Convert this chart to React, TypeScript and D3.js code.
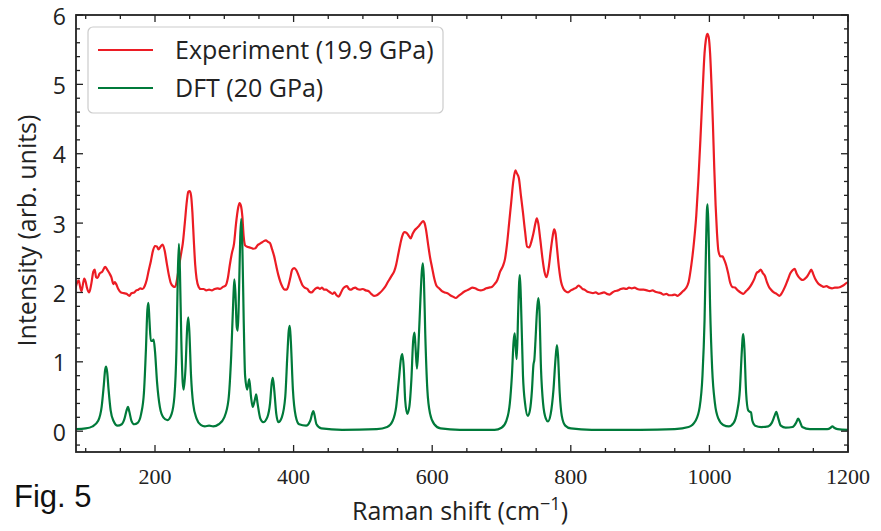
import React from "react";
import * as d3 from "d3";

// Raman shift (cm^-1), intensity (arb. units)
const experimentShift = [85,88,90,92,94,96,98,100,102,105,108,111,113,115,117,120,124,128,131,134,137,140,142,144,147,151,155,159,163,166,170,173,176,179,182,185,188,191,194,197,200,203,205,208,211,214,217,220,223,226,229,232,235,238,240,243,246,248,250,252,254,256,258,260,263,266,270,274,278,282,286,290,294,298,302,305,308,311,314,317,320,322,324,326,328,330,333,336,339,342,345,348,351,354,357,360,363,366,369,372,375,378,381,384,387,390,392,395,398,401,404,407,410,413,416,420,423,426,429,432,435,438,441,444,447,450,453,456,459,462,465,468,471,474,477,480,483,486,489,492,496,500,504,508,512,516,520,524,528,532,536,539,542,545,548,551,554,557,560,563,566,569,572,575,578,581,584,587,589,591,594,597,600,603,606,610,614,618,622,626,630,634,638,642,646,650,654,658,662,666,670,674,678,682,686,690,694,698,702,705,708,711,714,717,720,722,725,728,731,734,737,740,743,746,749,751,753,756,759,762,765,768,771,774,776,778,780,783,786,789,792,796,800,804,808,811,814,817,820,824,828,832,836,840,844,848,852,856,860,864,868,872,876,880,884,888,892,896,900,905,910,914,918,922,926,930,934,938,942,946,950,954,958,962,966,970,974,978,981,984,987,990,993,995,997,999,1001,1003,1005,1007,1009,1011,1013,1016,1019,1021,1024,1027,1030,1033,1037,1041,1045,1049,1053,1057,1061,1065,1068,1071,1074,1077,1080,1083,1086,1089,1093,1097,1101,1105,1109,1113,1117,1120,1123,1126,1129,1132,1135,1138,1141,1144,1147,1150,1153,1157,1161,1165,1169,1173,1177,1181,1185,1189,1193,1197,1200];
const experimentIntensity = [2.05,2.15,2.17,2.08,2.02,2.12,2.2,2.15,2.06,2.0,2.12,2.3,2.33,2.22,2.21,2.27,2.3,2.37,2.33,2.28,2.22,2.12,2.15,2.12,2.05,2.0,1.99,1.98,1.95,1.99,2.0,2.03,2.04,2.06,2.05,2.09,2.18,2.32,2.45,2.6,2.67,2.66,2.62,2.66,2.69,2.6,2.42,2.25,2.13,2.09,2.08,2.2,2.4,2.58,2.7,3.0,3.32,3.45,3.46,3.4,3.15,2.75,2.4,2.2,2.08,2.05,2.05,2.03,2.04,2.03,2.05,2.06,2.05,2.08,2.1,2.2,2.4,2.57,2.7,3.0,3.22,3.29,3.25,3.1,2.8,2.68,2.66,2.65,2.64,2.63,2.64,2.68,2.7,2.72,2.74,2.75,2.73,2.71,2.62,2.52,2.38,2.25,2.15,2.08,2.04,2.04,2.08,2.2,2.33,2.35,2.32,2.25,2.17,2.1,2.07,2.05,2.01,2.0,2.03,2.06,2.07,2.05,2.07,2.04,2.04,2.02,2.0,1.98,2.0,1.96,1.94,1.99,2.05,2.08,2.09,2.05,2.04,2.06,2.07,2.05,2.04,2.05,2.03,2.02,1.98,1.95,1.96,1.99,2.03,2.08,2.15,2.2,2.25,2.3,2.4,2.55,2.7,2.82,2.87,2.86,2.82,2.78,2.85,2.9,2.93,2.96,3.0,3.03,3.0,2.91,2.7,2.5,2.35,2.2,2.1,2.06,2.02,2.0,1.99,1.96,1.94,1.92,1.95,1.98,2.01,2.03,2.05,2.07,2.06,2.04,2.03,2.04,2.06,2.07,2.08,2.12,2.18,2.3,2.38,2.48,2.7,3.0,3.3,3.6,3.76,3.72,3.65,3.4,3.15,2.88,2.66,2.65,2.73,2.85,3.0,3.07,3.0,2.76,2.5,2.3,2.22,2.35,2.6,2.82,2.91,2.85,2.65,2.35,2.15,2.06,2.02,2.0,2.03,2.05,2.07,2.1,2.08,2.05,2.04,2.01,2.0,1.99,2.0,1.98,1.99,2.0,1.98,1.97,2.0,2.02,2.03,2.05,2.06,2.05,2.07,2.06,2.07,2.05,2.04,2.04,2.03,2.02,2.03,2.01,2.0,1.99,1.97,1.98,1.96,1.96,1.97,1.95,1.98,2.02,2.06,2.15,2.4,2.75,3.1,3.6,4.2,4.85,5.45,5.65,5.73,5.68,5.45,5.0,4.45,3.8,3.25,2.85,2.6,2.52,2.52,2.48,2.4,2.28,2.14,2.08,2.07,2.03,2.0,1.98,2.02,2.06,2.12,2.2,2.28,2.3,2.33,2.28,2.24,2.15,2.08,2.04,2.0,1.98,1.95,2.0,2.08,2.18,2.28,2.32,2.34,2.27,2.22,2.19,2.18,2.2,2.23,2.28,2.33,2.26,2.19,2.13,2.1,2.08,2.09,2.07,2.06,2.07,2.07,2.08,2.1,2.13,2.15];

const dftShift = [85,100,110,118,123,126,128,129.5,131,133,136,140,146,152,156,159,161,163,166,170,175,180,184,187,189,190.5,192,194,196,198,200,203,207,212,218,224,228,231,233,234.5,236,238,240,241.5,244,246.5,248,249.5,252,255,260,266,272,278,284,292,300,306,310,313,314.5,316,318,319.5,321,323,324.5,326,328,330,333,336,338.5,341,344,346,348,352,356,362,366,368.5,370,372,375,378,383,388,391,393,394.5,396,399,403,408,418,424,427,428.5,430,433,440,470,520,535,543,548,552,555,557,559,561,564,567,570,572.5,574.5,576,578,580,583,585,586.5,588,590,593,597,603,612,640,690,700,707,712,715,717.5,719,720.5,722,724,725.5,726.5,728,731,734,738,741,744,746,747.5,749,751,753,754.5,757,760,764,767,771,775,778,780,781.5,784,787,792,800,830,900,950,970,980,986,990,993,995,996.5,997.5,999,1001,1004,1008,1013,1020,1028,1035,1040,1044,1046.5,1048,1049,1050.5,1053,1056,1058.5,1060,1062,1066,1075,1085,1090,1094,1096.5,1099,1103,1110,1120,1125,1128,1130.5,1134,1145,1170,1175,1177.5,1180,1185,1200];
const dftIntensity = [0.03,0.04,0.07,0.15,0.35,0.65,0.88,0.93,0.85,0.6,0.3,0.15,0.08,0.1,0.18,0.3,0.35,0.28,0.15,0.1,0.12,0.25,0.55,1.2,1.75,1.85,1.6,1.3,1.3,1.32,1.15,0.7,0.35,0.2,0.16,0.25,0.5,1.2,2.3,2.7,2.3,1.3,0.7,0.6,0.9,1.5,1.64,1.45,0.8,0.4,0.18,0.09,0.07,0.08,0.07,0.1,0.2,0.45,1.1,1.9,2.19,2.0,1.5,1.45,1.9,2.8,3.06,2.7,1.6,0.8,0.6,0.75,0.5,0.35,0.45,0.53,0.4,0.18,0.13,0.2,0.4,0.7,0.77,0.6,0.25,0.13,0.2,0.5,1.1,1.45,1.52,1.3,0.6,0.22,0.1,0.08,0.15,0.26,0.29,0.24,0.1,0.04,0.02,0.03,0.06,0.15,0.35,0.75,1.05,1.11,0.9,0.45,0.25,0.35,0.75,1.3,1.42,1.2,0.9,1.2,1.9,2.3,2.42,2.2,1.4,0.6,0.25,0.1,0.04,0.02,0.02,0.05,0.15,0.4,0.8,1.3,1.41,1.2,1.04,1.7,2.15,2.25,1.9,0.8,0.4,0.22,0.3,0.6,0.95,1.04,1.3,1.7,1.92,1.8,0.9,0.4,0.18,0.14,0.25,0.6,1.05,1.24,1.1,0.55,0.22,0.08,0.04,0.02,0.02,0.03,0.06,0.15,0.35,0.8,1.6,2.6,3.2,3.27,2.8,1.8,0.9,0.4,0.18,0.09,0.07,0.12,0.28,0.6,1.1,1.35,1.4,1.2,0.55,0.3,0.28,0.27,0.15,0.08,0.06,0.07,0.12,0.22,0.28,0.2,0.08,0.05,0.06,0.12,0.18,0.14,0.06,0.03,0.03,0.05,0.07,0.05,0.03,0.02];

const xTicksMajor = [200, 400, 600, 800, 1000, 1200];
const yTicksMajor = [0, 1, 2, 3, 4, 5, 6];
const seriesNames = ["Experiment (19.9 GPa)", "DFT (20 GPa)"];
const seriesColors = ["#ec1c24", "#007a3a"];

const W = 881, H = 531;
const L = 76, R = 848, T = 15, B = 452;
const SANS = "'Open Sans', 'Noto Sans', sans-serif";

export default function App() {
  const x = d3.scaleLinear().domain([86, 1200]).range([L, R]);
  const y = d3.scaleLinear().domain([-0.3, 6]).range([B, T]);
  const line = d3.line<[number, number]>()
    .x(d => x(d[0])).y(d => y(d[1]))
    .curve(d3.curveMonotoneX);
  const exp = experimentShift.map((v, i) => [v, experimentIntensity[i]] as [number, number]);
  const dft = dftShift.map((v, i) => [v, dftIntensity[i]] as [number, number]);

  const xMinor = d3.range(100, 1201, 50).filter(v => !xTicksMajor.includes(v));
  const yMinor = d3.range(-0.2, 6.001, 0.2).filter(v => Math.abs(v - Math.round(v)) > 1e-6);
  const maj = 7, mnr = 4;

  return (
    <svg width={W} height={H} style={{ position: "absolute", left: 0, top: 0, background: "#fff" }}>
      <defs>
        <clipPath id="plotclip"><rect x={L} y={T} width={R - L} height={B - T} /></clipPath>
      </defs>
      <g clipPath="url(#plotclip)" fill="none" strokeWidth={2.2} strokeLinejoin="round">
        <path d={line(exp) || ""} stroke={seriesColors[0]} />
        <path d={line(dft) || ""} stroke={seriesColors[1]} />
      </g>
      <g stroke="#222" strokeWidth={1.3}>
        {xTicksMajor.map(v => (
          <g key={"xm" + v}>
            <line x1={x(v)} x2={x(v)} y1={B} y2={B - maj} />
            <line x1={x(v)} x2={x(v)} y1={T} y2={T + maj} />
          </g>
        ))}
        {xMinor.map(v => (
          <g key={"xn" + v}>
            <line x1={x(v)} x2={x(v)} y1={B} y2={B - mnr} />
            <line x1={x(v)} x2={x(v)} y1={T} y2={T + mnr} />
          </g>
        ))}
        {yTicksMajor.map(v => (
          <g key={"ym" + v}>
            <line x1={L} x2={L + maj} y1={y(v)} y2={y(v)} />
            <line x1={R} x2={R - maj} y1={y(v)} y2={y(v)} />
          </g>
        ))}
        {yMinor.map(v => (
          <g key={"yn" + v.toFixed(1)}>
            <line x1={L} x2={L + mnr} y1={y(v)} y2={y(v)} />
            <line x1={R} x2={R - mnr} y1={y(v)} y2={y(v)} />
          </g>
        ))}
      </g>
      <rect x={L} y={T} width={R - L} height={B - T} fill="none" stroke="#222" strokeWidth={1.8} />
      <g fontFamily="'Liberation Serif', serif" fontSize={22} fill="#222" textAnchor="middle">
        {xTicksMajor.map(v => (
          <text key={"xl" + v} x={x(v)} y={484}>{v}</text>
        ))}
      </g>
      <g fontFamily={SANS} fontSize={23} fill="#222" textAnchor="end">
        {yTicksMajor.map(v => (
          <text key={"yl" + v} x={66} y={y(v) + 9.5}>{v}</text>
        ))}
      </g>
      <text x={460} y={520} textAnchor="middle" fontFamily={SANS} fontSize={25} fill="#222">
        Raman shift (cm<tspan dy={-10} fontSize={18}>−1</tspan><tspan dy={10}>)</tspan>
      </text>
      <text transform={`translate(36, ${(T + B) / 2 - 3}) rotate(-90)`} textAnchor="middle" fontFamily={SANS} fontSize={25} fill="#222">
        Intensity (arb. units)
      </text>
      <text x={14} y={507} fontFamily="'Liberation Sans', Arial, sans-serif" fontSize={31} fill="#111">Fig. 5</text>
      <g>
        <rect x={88} y={27} width={355} height={86} rx={5} fill="#fff" fillOpacity={0.85} stroke="#ccc" strokeWidth={1.2} />
        {seriesNames.map((n, i) => (
          <g key={n}>
            <line x1={98} x2={153} y1={50 + i * 38} y2={50 + i * 38} stroke={seriesColors[i]} strokeWidth={2.2} />
            <text x={175} y={59 + i * 38} fontFamily={SANS} fontSize={25} fill="#222">{n}</text>
          </g>
        ))}
      </g>
    </svg>
  );
}
